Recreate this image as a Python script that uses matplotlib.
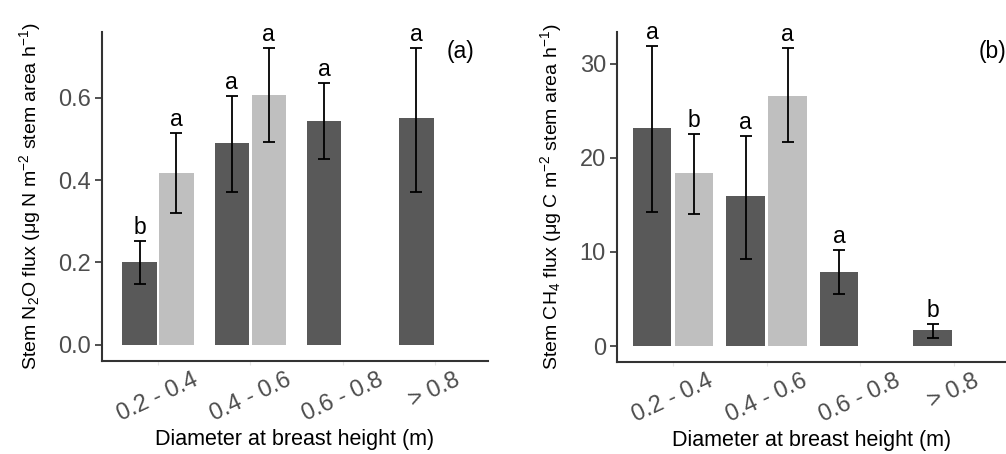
import matplotlib.pyplot as plt
import matplotlib.transforms as mtransforms
import numpy as np

plt.rcParams['font.family'] = ['Liberation Sans', 'DejaVu Sans']
plt.rcParams['mathtext.fontset'] = 'custom'
plt.rcParams['mathtext.rm'] = 'Liberation Sans'
plt.rcParams['mathtext.it'] = 'Liberation Sans:italic'
plt.rcParams['mathtext.default'] = 'regular'

# DBH classes
classes = ['0.2 - 0.4', '0.4 - 0.6', '0.6 - 0.8', '> 0.8']

# N2O flux: dark = group 1, light = group 2 (only first two classes)
n2o_dark = [0.20, 0.49, 0.543, 0.55]
n2o_dark_lo = [0.148, 0.371, 0.451, 0.371]
n2o_dark_hi = [0.252, 0.604, 0.635, 0.72]
n2o_dark_let = ['b', 'a', 'a', 'a']
n2o_light = [0.417, 0.606]
n2o_light_lo = [0.32, 0.492]
n2o_light_hi = [0.514, 0.72]
n2o_light_let = ['a', 'a']

# CH4 flux
ch4_dark = [23.2, 16.0, 7.9, 1.7]
ch4_dark_lo = [14.3, 9.3, 5.5, 0.8]
ch4_dark_hi = [31.9, 22.3, 10.2, 2.3]
ch4_dark_let = ['a', 'a', 'a', 'b']
ch4_light = [18.4, 26.6]
ch4_light_lo = [14.0, 21.7]
ch4_light_hi = [22.5, 31.7]
ch4_light_let = ['b', 'a']

dark = '#595959'
light = '#bfbfbf'
axcol = '#333333'
tickcol = '#4d4d4d'
fs_tick = 17
fs_xlab = 15.5
fs_ylab = 14
fs_let = 16.5


def draw_panel(ax, dark_v, dark_lo, dark_hi, dark_let, light_v, light_lo,
               light_hi, light_let, off, width, ylabel, yticks, lab_shift):
    x = np.arange(1, len(classes) + 1)
    xd = x - off
    xl = x[:len(light_v)] + off
    ax.bar(xd, dark_v, width=width, color=dark, zorder=2)
    ax.bar(xl, light_v, width=width, color=light, zorder=2)
    for xs, v, lo, hi, lets in [(xd, dark_v, dark_lo, dark_hi, dark_let),
                                (xl, light_v, light_lo, light_hi, light_let)]:
        v = np.array(v)
        yerr = [v - np.array(lo), np.array(hi) - v]
        ax.errorbar(xs, v, yerr=yerr, fmt='none', ecolor='black',
                    elinewidth=1.3, capsize=4, capthick=1.3, zorder=3)
        # significance letters above the upper cap
        for xi, h, t in zip(xs, hi, lets):
            ax.annotate(t, (xi, h), xytext=(0, 1.5), textcoords='offset points',
                        ha='center', va='bottom', fontsize=fs_let, color='black')
    ax.set_xticks(x)
    ax.set_xticklabels(classes, rotation=25, ha='center', va='top',
                       fontsize=fs_tick, color=tickcol)
    shift = mtransforms.ScaledTranslation(lab_shift / 100, 0,
                                          ax.figure.dpi_scale_trans)
    for lab in ax.get_xticklabels():
        lab.set_transform(lab.get_transform() + shift)
    ax.tick_params(axis='x', length=3, color='#e6e6e6', pad=3)
    ax.set_yticks(yticks)
    ax.tick_params(axis='y', length=5, width=1.2, color=axcol,
                   labelsize=fs_tick, labelcolor=tickcol, pad=3)
    for s in ['top', 'right']:
        ax.spines[s].set_visible(False)
    for s in ['left', 'bottom']:
        ax.spines[s].set_color(axcol)
        ax.spines[s].set_linewidth(1.5)
    ax.set_xlabel('Diameter at breast height (m)', fontsize=fs_xlab, labelpad=2)
    ax.set_ylabel(ylabel, fontsize=fs_ylab, labelpad=11)


fig = plt.figure(figsize=(10.06, 4.54), dpi=100)
ax1 = fig.add_axes([102 / 1006, 93 / 454, 386 / 1006, 329 / 454])
ax2 = fig.add_axes([617 / 1006, 92 / 454, 389 / 1006, 330 / 454])

draw_panel(ax1, n2o_dark, n2o_dark_lo, n2o_dark_hi, n2o_dark_let,
           n2o_light, n2o_light_lo, n2o_light_hi, n2o_light_let,
           0.2, 0.37,
           r'Stem N$_2$O flux ($\mu$g N m$^{-2}$ stem area h$^{-1}$)',
           [0.0, 0.2, 0.4, 0.6], 5)
ax1.set_yticklabels(['0.0', '0.2', '0.4', '0.6'])
ax1.set_xlim(0.393, 4.575)
ax1.set_ylim(-0.039, 0.759)
ax1.text(0.965, 0.94, '(a)', transform=ax1.transAxes, fontsize=fs_let,
         ha='right', va='center')

draw_panel(ax2, ch4_dark, ch4_dark_lo, ch4_dark_hi, ch4_dark_let,
           ch4_light, ch4_light_lo, ch4_light_hi, ch4_light_let,
           0.225, 0.41,
           r'Stem CH$_4$ flux ($\mu$g C m$^{-2}$ stem area h$^{-1}$)',
           [0, 10, 20, 30], 11)
ax2.set_xlim(0.401, 4.56)
ax2.set_ylim(-1.7, 33.4)
ax2.text(1.0, 0.94, '(b)', transform=ax2.transAxes, fontsize=fs_let,
         ha='right', va='center')

fig.savefig('out.png', dpi=100)
